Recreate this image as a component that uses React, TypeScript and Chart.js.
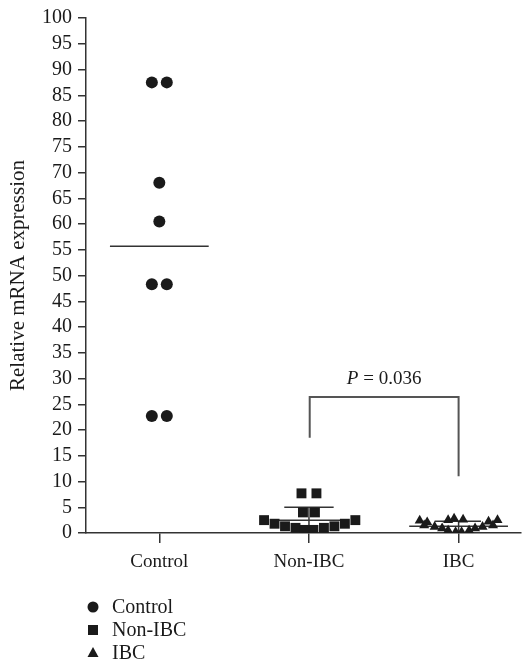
import React, { useEffect, useRef } from "react";
import { Chart, registerables } from "chart.js";

Chart.register(...registerables);

const categories = ["Control", "Non-IBC", "IBC"];
const yTicks = [0, 100, 5]; // min, max, step

// Control (category 0)
const controlValues = [87.5, 87.5, 68.0, 60.5, 48.3, 48.3, 22.7, 22.7];
const controlX = [-0.05, 0.05, 0, 0, -0.05, 0.05, -0.05, 0.05];
const controlMean = 55.7;

// Non-IBC (category 1)
const nonIbcValues = [7.7, 7.7, 4.0, 4.0, 2.5, 2.5, 1.8, 1.8, 1.3, 1.3, 1.0, 1.0, 0.6, 0.6];
const nonIbcX = [-0.05, 0.05, -0.04, 0.04, -0.3, 0.31, -0.23, 0.24, -0.16, 0.17, -0.09, 0.1, -0.03, 0.03];
const nonIbcMean = 2.5;
const nonIbcSdTop = 5.0;

// IBC (category 2)
const ibcValues = [2.4, 2.1, 2.5, 2.8, 2.6, 2.2, 2.5, 1.5, 1.2, 0.9, 0.5, 0.2, 0.2, 0.5, 0.9, 1.2, 1.5];
const ibcX = [-0.26, -0.21, -0.07, -0.03, 0.03, 0.2, 0.26, -0.23, -0.16, -0.11, -0.07, -0.02, 0.02, 0.07, 0.11, 0.16, 0.23];
const ibcMean = 1.3;
const ibcSdTop = 2.3;

// significance bracket
const bracketX = [1.005, 2.0];
const bracketY = [18.5, 26.4, 11.0];
const pLabel = "0.036";

const SERIF = "'Liberation Serif', 'Times New Roman', serif";
const INK = "#1a1a1a";
const LINE = "#333333";

function seg(points: { x: number; y: number }[], color = LINE, width = 1.5) {
  return {
    type: "scatter" as const,
    data: points,
    showLine: true,
    borderColor: color,
    borderWidth: width,
    pointRadius: 0,
    pointHoverRadius: 0,
    fill: false,
  };
}

export default function App() {
  const ref = useRef<HTMLCanvasElement | null>(null);

  useEffect(() => {
    document.body.style.margin = "0";
    const canvas = ref.current!;
    const pts = (vals: number[], xs: number[], c: number) => vals.map((v, i) => ({ x: c + xs[i], y: v }));

    const legendPlugin = {
      id: "customLegendAndP",
      afterDraw(chart: any) {
        const ctx = chart.ctx as CanvasRenderingContext2D;
        const xs = chart.scales.x;
        const ys = chart.scales.y;
        ctx.save();
        // P label
        const px = xs.getPixelForValue((bracketX[0] + bracketX[1]) / 2);
        const py = ys.getPixelForValue(bracketY[1]) - 18;
        ctx.font = `italic 19px ${SERIF}`;
        const pW = ctx.measureText("P").width;
        ctx.font = `19px ${SERIF}`;
        const rest = " = " + pLabel;
        const rW = ctx.measureText(rest).width;
        const startX = px - (pW + rW) / 2;
        ctx.fillStyle = INK;
        ctx.textBaseline = "middle";
        ctx.font = `italic 19px ${SERIF}`;
        ctx.fillText("P", startX, py);
        ctx.font = `19px ${SERIF}`;
        ctx.fillText(rest, startX + pW, py);

        // legend
        const lx = 93;
        const rows = [607, 630, 653];
        ctx.font = `20px ${SERIF}`;
        categories.forEach((name, i) => {
          const y = rows[i];
          ctx.fillStyle = INK;
          ctx.beginPath();
          if (i === 0) {
            ctx.arc(lx, y, 5.5, 0, Math.PI * 2);
          } else if (i === 1) {
            ctx.rect(lx - 5, y - 5, 10, 10);
          } else {
            ctx.moveTo(lx, y - 6);
            ctx.lineTo(lx + 5.5, y + 4);
            ctx.lineTo(lx - 5.5, y + 4);
            ctx.closePath();
          }
          ctx.fill();
          ctx.fillText(name, lx + 19, y + 1);
        });
        ctx.restore();
      },
    };

    const chart = new Chart(canvas, {
      type: "scatter",
      data: {
        datasets: [
          {
            data: pts(controlValues, controlX, 0),
            pointStyle: "circle",
            pointRadius: 6,
            backgroundColor: INK,
            borderWidth: 0,
          },
          {
            data: pts(nonIbcValues, nonIbcX, 1),
            pointStyle: "rect",
            pointRadius: 7,
            backgroundColor: INK,
            borderWidth: 0,
          },
          {
            data: pts(ibcValues, ibcX, 2),
            pointStyle: "triangle",
            pointRadius: 5.8,
            backgroundColor: INK,
            borderWidth: 0,
          },
          // mean lines
          seg([{ x: -0.33, y: controlMean }, { x: 0.33, y: controlMean }]),
          seg([{ x: 0.74, y: nonIbcMean }, { x: 1.26, y: nonIbcMean }]),
          seg([{ x: 1.67, y: ibcMean }, { x: 2.33, y: ibcMean }]),
          // SD whiskers
          seg([{ x: 1, y: 0 }, { x: 1, y: nonIbcSdTop }]),
          seg([{ x: 0.835, y: nonIbcSdTop }, { x: 1.165, y: nonIbcSdTop }]),
          seg([{ x: 2, y: 0 }, { x: 2, y: ibcSdTop }]),
          seg([{ x: 1.84, y: ibcSdTop }, { x: 2.15, y: ibcSdTop }]),
          // bracket
          seg(
            [
              { x: bracketX[0], y: bracketY[0] },
              { x: bracketX[0], y: bracketY[1] },
              { x: bracketX[1], y: bracketY[1] },
              { x: bracketX[1], y: bracketY[2] },
            ],
            "#555555",
            2
          ),
        ] as any,
      },
      options: {
        animation: false,
        responsive: false,
        maintainAspectRatio: false,
        layout: { padding: { top: 15, right: 3, left: 0, bottom: 0 } },
        plugins: {
          legend: { display: false },
          tooltip: { enabled: false },
        },
        scales: {
          x: {
            type: "linear",
            min: -0.49,
            max: 2.417,
            afterBuildTicks: (s: any) => {
              s.ticks = categories.map((_, i) => ({ value: i }));
            },
            afterFit: (s: any) => {
              s.height = 136;
            },
            ticks: {
              callback: (v: any) => categories[Math.round(Number(v))] ?? "",
              font: { family: SERIF, size: 19 },
              color: INK,
              padding: 8,
              maxRotation: 0,
            },
            grid: {
              display: true,
              drawOnChartArea: false,
              drawTicks: true,
              tickLength: 10,
              color: LINE,
              lineWidth: 1.5,
            },
            border: { display: true, color: LINE, width: 1.5 },
          },
          y: {
            type: "linear",
            min: yTicks[0],
            max: yTicks[1],
            afterFit: (s: any) => {
              s.width = 86;
            },
            ticks: {
              stepSize: yTicks[2],
              autoSkip: false,
              font: { family: SERIF, size: 20 },
              color: INK,
              padding: 6,
            },
            grid: {
              display: true,
              drawOnChartArea: false,
              drawTicks: true,
              tickLength: 8,
              color: LINE,
              lineWidth: 1.5,
            },
            border: { display: true, color: LINE, width: 1.5 },
            title: {
              display: true,
              text: "Relative mRNA expression",
              font: { family: SERIF, size: 21 },
              color: INK,
              padding: { top: 6, bottom: 2 },
            },
          },
        },
      },
      plugins: [legendPlugin],
    });
    return () => chart.destroy();
  }, []);

  return (
    <div style={{ width: 528, height: 669 }}>
      <canvas ref={ref} width={528} height={669} style={{ width: 528, height: 669, display: "block" }} />
    </div>
  );
}
